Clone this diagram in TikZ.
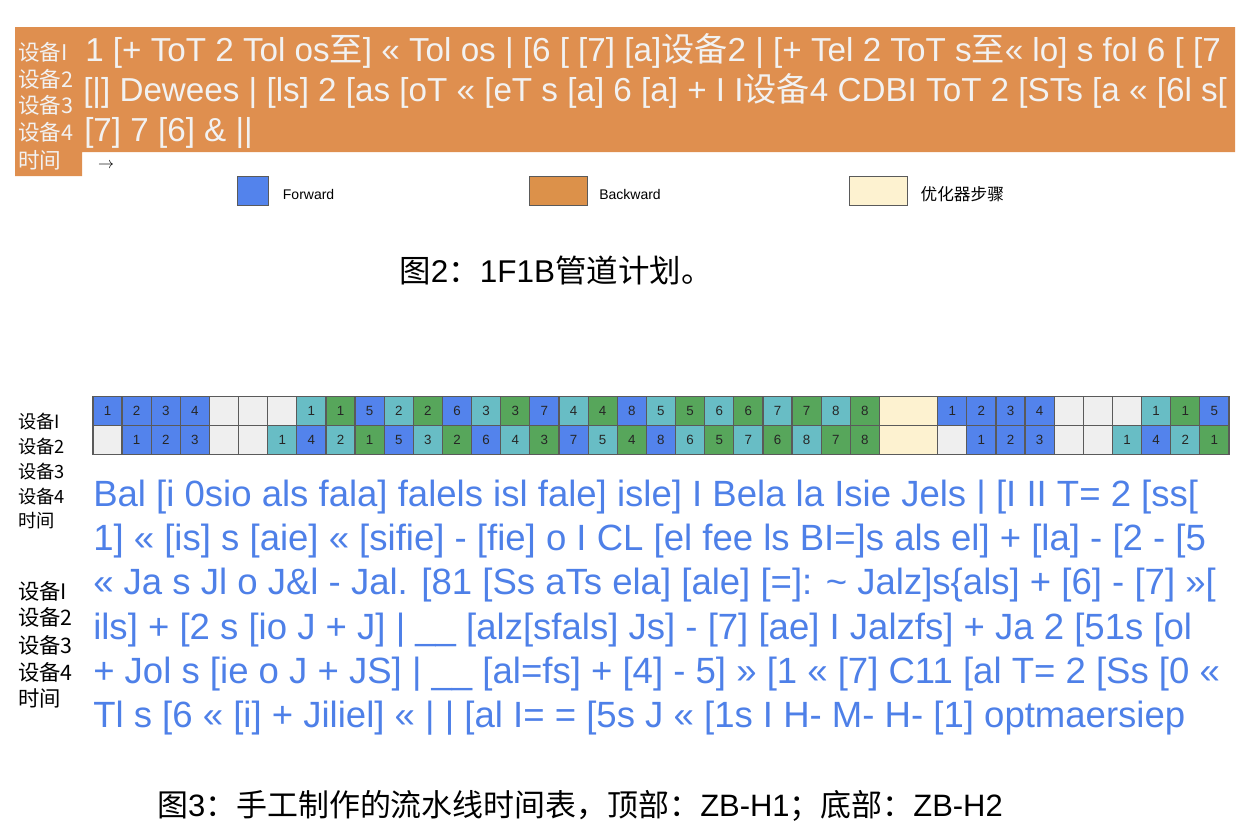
\documentclass[tikz,border=0pt]{standalone}
\usepackage{fontspec}
\setmainfont{Liberation Sans}
\newfontfamily\cjk{Noto Sans CJK SC}
\newcommand{\zh}[1]{{\cjk #1}}
\usetikzlibrary{positioning}

\definecolor{fwd}{HTML}{5383EC}
\definecolor{bwd}{HTML}{68BDC5}
\definecolor{wgt}{HTML}{57A65B}
\definecolor{idle}{HTML}{EFEFEF}
\definecolor{optstep}{HTML}{FDF2D0}
\definecolor{legorange}{HTML}{DC914A}
\definecolor{blockorange}{HTML}{DF8F4F}
\definecolor{ocrblue}{HTML}{4E80E8}
\definecolor{gridline}{HTML}{5A5A5A}

\tikzset{
  cell/.style={draw=gridline,line width=0.9pt,anchor=north west,inner sep=0pt,
    minimum width=21.85pt,minimum height=21.75pt,text=black!85,
    font=\fontsize{10}{10}\selectfont},
  legbox/.style={draw=gridline,line width=1pt,anchor=north west,inner sep=0pt,
    minimum height=21.75pt},
  leglabel/.style={right=10pt of #1,yshift=-2.2pt,inner sep=0pt,font=\fontsize{10.5}{10.5}\selectfont},
  devlabel/.style={anchor=west,inner sep=0pt,font=\cjk\fontsize{#1}{#1}\selectfont},
  scanline/.style={anchor=base west,inner sep=0pt,font=\fontsize{#1}{#1}\selectfont},
  caption/.style={inner sep=0pt,font=\fontsize{#1}{#1}\selectfont}
}

\begin{document}
\begin{tikzpicture}[x=0.75pt,y=-0.75pt]
  \useasboundingbox (0,0) rectangle (1248,836);

  % orange block at the top
  \fill[blockorange] (15,27) -- (1235,27) -- (1235,152) -- (82,152) -- (82,176) -- (15,176) -- cycle;
  \foreach \lab/\y [count=\k] in {设备I/52,设备2/79,设备3/105,设备4/132,时间/160}
    \node[devlabel=16.2,text=white!95!black] (top\k) at (18,\y) {\lab};
  \node[scanline=24.9,text=white!95!black] (olineA) at (85,61)
    {1 [+ ToT 2 Tol os\zh{至}] « Tol os | [6 [ [7] [a]\zh{设备}2 | [+ Tel 2 ToT s\zh{至}« lo] s fol 6 [ [7};
  \node[scanline=24.9,text=white!95!black] (olineB) at (83,101)
    {[|] Dewees | [ls] 2 [as [oT « [eT s [a] 6 [a] + I I\zh{设备}4 CDBI ToT 2 [STs [a « [6l s[};
  \node[scanline=24.9,text=white!95!black] (olineC) at (84,141) {[7] 7 [6] \& ||};
  \node[inner sep=0pt,font=\large] (arrow) at (106,166) {$\rightarrow$};

  % legend
  \node[legbox,fill=fwd,minimum width=23.25pt] (legF) at (237,176) {};
  \node[leglabel=legF] (legFt) {Forward};
  \node[legbox,fill=legorange,minimum width=43.5pt] (legB) at (529,176) {};
  \node[leglabel=legB,xshift=-2pt] (legBt) {Backward};
  \node[legbox,fill=optstep,minimum width=43.5pt] (legO) at (849,176) {};
  \node[leglabel=legO,xshift=-1pt,font=\cjk\fontsize{12.5}{12.5}\selectfont] (legOt) {优化器步骤};

  \node[caption=23.6] (capA) at (556,270) {\zh{图}2\zh{：}1F1B\zh{管道计划。}};

  % schedule grid
  \foreach \c/\n [count=\i from 0] in {fwd/1,fwd/2,fwd/3,fwd/4,idle/{},idle/{},idle/{},
      bwd/1,wgt/1,fwd/5,bwd/2,wgt/2,fwd/6,bwd/3,wgt/3,fwd/7,bwd/4,wgt/4,fwd/8,
      bwd/5,wgt/5,bwd/6,wgt/6,bwd/7,wgt/7,bwd/8,wgt/8,
      fwd/1,fwd/2,fwd/3,fwd/4,idle/{},idle/{},idle/{},bwd/1,wgt/1,fwd/5} {
    \pgfmathsetmacro\xx{92.3+(\i+2*(\i>26))*29.13}
    \node[cell,fill=\c] (ra\i) at (\xx,396) {\n};
  }
  \foreach \c/\n [count=\i from 0] in {idle/{},fwd/1,fwd/2,fwd/3,idle/{},idle/{},
      bwd/1,fwd/4,bwd/2,wgt/1,fwd/5,bwd/3,wgt/2,fwd/6,bwd/4,wgt/3,fwd/7,bwd/5,wgt/4,
      fwd/8,bwd/6,wgt/5,bwd/7,wgt/6,bwd/8,wgt/7,wgt/8,
      idle/{},fwd/1,fwd/2,fwd/3,idle/{},idle/{},bwd/1,fwd/4,bwd/2,wgt/1} {
    \pgfmathsetmacro\xx{92.3+(\i+2*(\i>26))*29.13}
    \node[cell,fill=\c] (rb\i) at (\xx,425) {\n};
  }
  \node[cell,fill=optstep,minimum width=43.7pt] (optA) at (878.8,396) {};
  \node[cell,fill=optstep,minimum width=43.7pt] (optB) at (878.8,425) {};

  \foreach \lab/\y [count=\k] in {设备I/422,设备2/447,设备3/472,设备4/497,时间/521}
    \node[devlabel=13.7] (midA\k) at (18,\y) {\lab};
  \foreach \lab/\y [count=\k] in {设备I/591,设备2/617,设备3/645,设备4/672,时间/698}
    \node[devlabel=16] (midB\k) at (18,\y) {\lab};

  % garbled blue block
  \node[scanline=27.4,text=ocrblue] (blineA) at (93,506)
    {Bal [i 0sio als fala] falels isl fale] isle] I Bela la Isie Jels | [I II T= 2 [ss[};
  \node[scanline=27.4,text=ocrblue] (blineB) at (93,550)
    {1] « [is] s [aie] « [sifie] - [fie] o I CL [el fee ls BI=]s als el] + [la] - [2 - [5};
  \node[scanline=27.4,text=ocrblue] (blineC) at (93,594)
    {« Ja s Jl o J\&l - Jal. [81 [Ss aTs ela] [ale] [=]: \textasciitilde{} Jalz]s\{als] + [6] - [7] »[};
  \node[scanline=27.4,text=ocrblue] (blineD) at (93,639)
    {ils] + [2 s [io J + J] | \_\_ [alz[sfals] Js] - [7] [ae] I Jalzfs] + Ja 2 [51s [ol};
  \node[scanline=27.4,text=ocrblue] (blineE) at (93,683)
    {+ Jol s [ie o J + JS] | \_\_ [al=fs] + [4] - 5] » [1 « [7] C11 [al T= 2 [Ss [0 «};
  \node[scanline=27.4,text=ocrblue] (blineF) at (93,727)
    {Tl s [6 « [i] + Jiliel] « | | [al I= = [5s J « [1s I H- M- H- [1] optmaersiep};

  \node[caption=23.2] (capB) at (580,806)
    {\zh{图}3\zh{：手工制作的流水线时间表，顶部：}ZB-H1\zh{；底部：}ZB-H2};
\end{tikzpicture}
\end{document}
